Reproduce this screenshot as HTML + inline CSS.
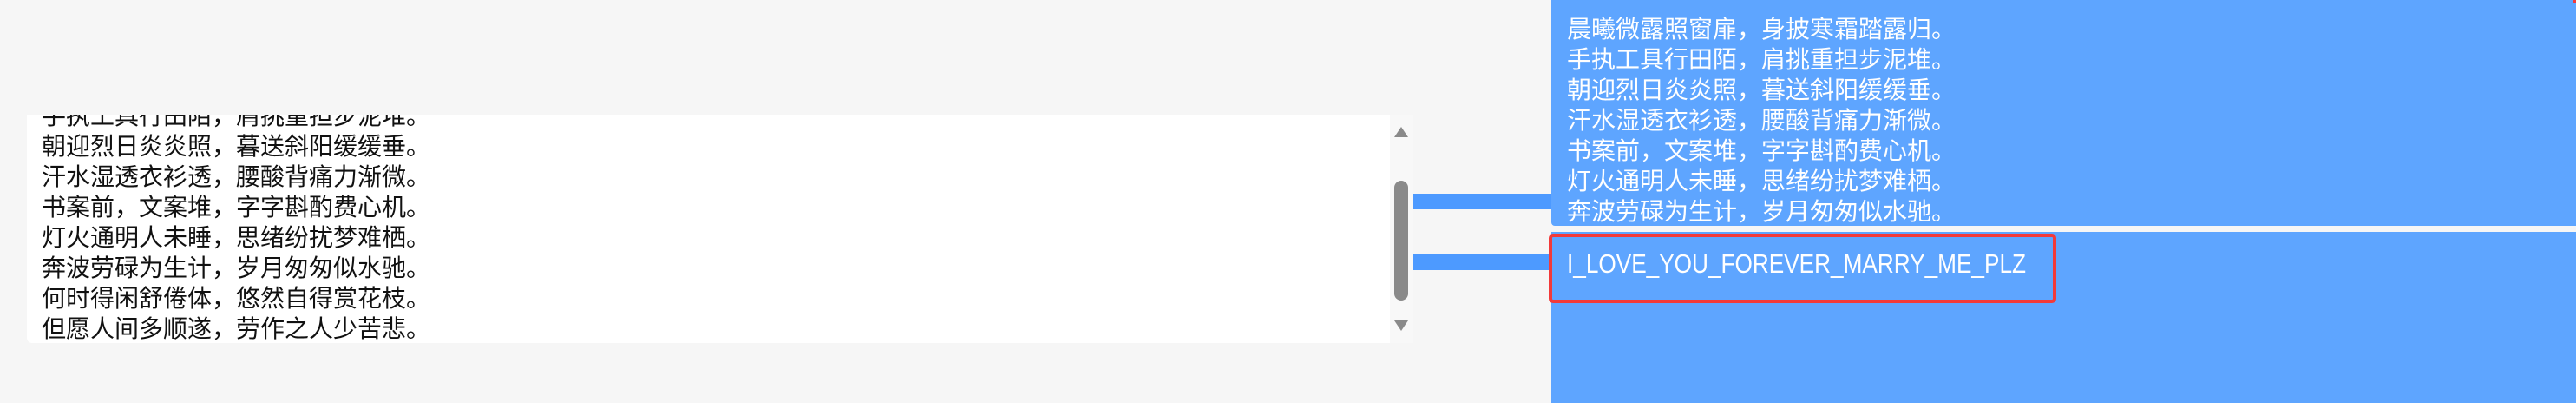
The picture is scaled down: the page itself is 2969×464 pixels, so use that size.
<!DOCTYPE html>
<html><head><meta charset="utf-8"><style>
html,body{margin:0;padding:0;}
body{width:2969px;height:464px;background:#f6f6f6;position:relative;overflow:hidden;font-family:"Liberation Sans","Noto Sans CJK SC",sans-serif;}
.abs{position:absolute;}
.cn{font-family:"Liberation Sans","Noto Sans CJK SC",sans-serif;font-size:28px;line-height:35px;white-space:nowrap;}
</style></head><body>
<div class="abs" style="left:31px;top:132px;width:1597px;height:263px;background:#fff;overflow:hidden;border-radius:0 0 0 6px;">
  <div class="abs cn" style="left:17px;top:-16px;color:#111;">
    手执工具行田陌，肩挑重担步泥堆。<br>朝迎烈日炎炎照，暮送斜阳缓缓垂。<br>汗水湿透衣衫透，腰酸背痛力渐微。<br>书案前，文案堆，字字斟酌费心机。<br>灯火通明人未睡，思绪纷扰梦难栖。<br>奔波劳碌为生计，岁月匆匆似水驰。<br>何时得闲舒倦体，悠然自得赏花枝。<br>但愿人间多顺遂，劳作之人少苦悲。
  </div>
  <div class="abs" style="left:1571px;top:0;width:26px;height:263px;background:#f8f8f8;"></div>
</div>
<div class="abs" style="left:1607px;top:146px;width:0;height:0;border-left:8px solid transparent;border-right:8px solid transparent;border-bottom:12px solid #8a8a8a;"></div>
<div class="abs" style="left:1607px;top:369px;width:0;height:0;border-left:8px solid transparent;border-right:8px solid transparent;border-top:12px solid #8a8a8a;"></div>
<div class="abs" style="left:1607px;top:208px;width:16px;height:138px;background:#8a8a8a;border-radius:8px;"></div>

<div class="abs" style="left:1628px;top:223px;width:160px;height:18px;background:#4d9aff;"></div>
<div class="abs" style="left:1628px;top:293px;width:160px;height:18px;background:#4d9aff;"></div>

<div class="abs" style="left:1788px;top:0;width:1181px;height:260px;background:#5ea5ff;border-radius:0 0 0 4px;">
  <div class="abs cn" style="left:18px;top:16px;color:#fff;">
    晨曦微露照窗扉，身披寒霜踏露归。<br>手执工具行田陌，肩挑重担步泥堆。<br>朝迎烈日炎炎照，暮送斜阳缓缓垂。<br>汗水湿透衣衫透，腰酸背痛力渐微。<br>书案前，文案堆，字字斟酌费心机。<br>灯火通明人未睡，思绪纷扰梦难栖。<br>奔波劳碌为生计，岁月匆匆似水驰。
  </div>
</div>
<div class="abs" style="left:1788px;top:267px;width:1181px;height:197px;background:#5ea5ff;"></div>
<div class="abs" style="left:1785px;top:269px;width:577px;height:72px;border:4px solid #f23a3a;border-radius:5px;"></div>
<svg class="abs" style="left:0;top:0" width="2969" height="464">
  <text x="1806" y="314" textLength="529" lengthAdjust="spacingAndGlyphs" font-family="Liberation Sans, sans-serif" font-size="31" fill="#fff">I_LOVE_YOU_FOREVER_MARRY_ME_PLZ</text>
  <circle cx="2969" cy="0" r="4" fill="#f23a3a"/>
</svg>
</body></html>
